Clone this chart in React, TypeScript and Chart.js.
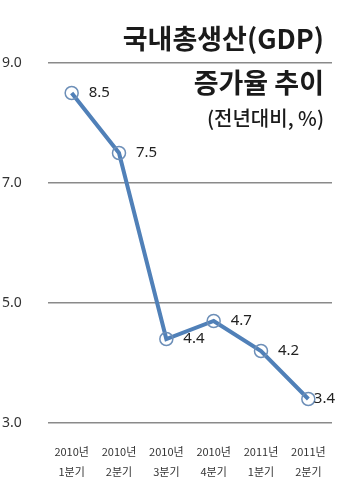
import React, { useEffect, useRef } from "react";
import { Chart, registerables } from "chart.js";

Chart.register(...registerables);

const quarters: string[][] = [
  ["2010년", "1분기"],
  ["2010년", "2분기"],
  ["2010년", "3분기"],
  ["2010년", "4분기"],
  ["2011년", "1분기"],
  ["2011년", "2분기"],
];
const gdpGrowth: number[] = [8.5, 7.5, 4.4, 4.7, 4.2, 3.4];
const yTicks: number[] = [3, 5, 7, 9];
const titleLines: string[] = ["국내총생산(GDP)", "증가율 추이"];
const subtitle = "(전년대비, %)";

const KR = "'Noto Sans CJK KR', 'Noto Sans', sans-serif";

const titlePlugin = {
  id: "titleOverlay",
  afterDraw(chart: any) {
    const ctx = chart.ctx;
    const x = 324;
    ctx.save();
    ctx.fillStyle = "#1a1a1a";
    ctx.textAlign = "right";
    ctx.textBaseline = "middle";
    ctx.font = `700 27px ${KR}`;
    ctx.fillText(titleLines[0], x, 39);
    ctx.fillText(titleLines[1], x, 83);
    ctx.font = `500 20px ${KR}`;
    ctx.fillText(subtitle, x, 118);
    ctx.restore();
  },
};

const labelPlugin = {
  id: "pointLabels",
  afterDatasetsDraw(chart: any) {
    const ctx = chart.ctx;
    const meta = chart.getDatasetMeta(0);
    ctx.save();
    ctx.fillStyle = "#222";
    ctx.font = `15px 'Noto Sans', sans-serif`;
    ctx.textAlign = "left";
    ctx.textBaseline = "middle";
    meta.data.forEach((pt: any, i: number) => {
      const txt = gdpGrowth[i].toFixed(1);
      const w = ctx.measureText(txt).width;
      let x = pt.x + 17;
      if (x + w > chart.width - 5) x = chart.width - 5 - w;
      ctx.fillText(txt, x, pt.y);
    });
    ctx.restore();
  },
};

export default function App() {
  const ref = useRef<HTMLCanvasElement>(null);
  useEffect(() => {
    if (!ref.current) return;
    const chart = new Chart(ref.current, {
      type: "line",
      data: {
        labels: quarters,
        datasets: [
          {
            data: gdpGrowth,
            borderColor: "#5080b8",
            borderWidth: 4,
            pointRadius: 6.5,
            pointBorderWidth: 1.5,
            pointBorderColor: "#6d8fb8",
            pointBackgroundColor: "rgba(255,255,255,0)",
            tension: 0,
          },
        ],
      },
      options: {
        responsive: false,
        animation: false,
        layout: { padding: { left: 2, right: 7, top: 63, bottom: 0 } },
        plugins: {
          legend: { display: false },
          tooltip: { enabled: false },
          title: { display: false },
        },
        scales: {
          x: {
            offset: true,
            grid: {
              display: true,
              drawOnChartArea: false,
              drawTicks: true,
              tickLength: 19,
              color: "rgba(0,0,0,0)",
            },
            border: { display: false },
            ticks: {
              padding: 0,
              maxRotation: 0,
              autoSkip: false,
              color: "#333",
              font: { family: KR, size: 11, lineHeight: 1.8 },
            },
            afterFit(scale: any) {
              scale.height = 81;
            },
          },
          y: {
            min: 3,
            max: 9,
            afterBuildTicks(scale: any) {
              scale.ticks = yTicks.map((v) => ({ value: v }));
            },
            grid: { color: "#8a8a8a", lineWidth: 1.5, drawTicks: false },
            border: { display: false },
            ticks: {
              crossAlign: "far",
              padding: 0,
              color: "#333",
              font: { family: "'Noto Sans', sans-serif", size: 14 },
              callback: (v: any) => Number(v).toFixed(1),
            },
            afterFit(scale: any) {
              scale.width = 46;
            },
          },
        },
      },
      plugins: [titlePlugin, labelPlugin],
    });
    return () => chart.destroy();
  }, []);
  return (
    <div style={{ position: "absolute", left: 0, top: 0, width: 340, height: 504, background: "#fff" }}>
      <canvas ref={ref} width={340} height={504} />
    </div>
  );
}
